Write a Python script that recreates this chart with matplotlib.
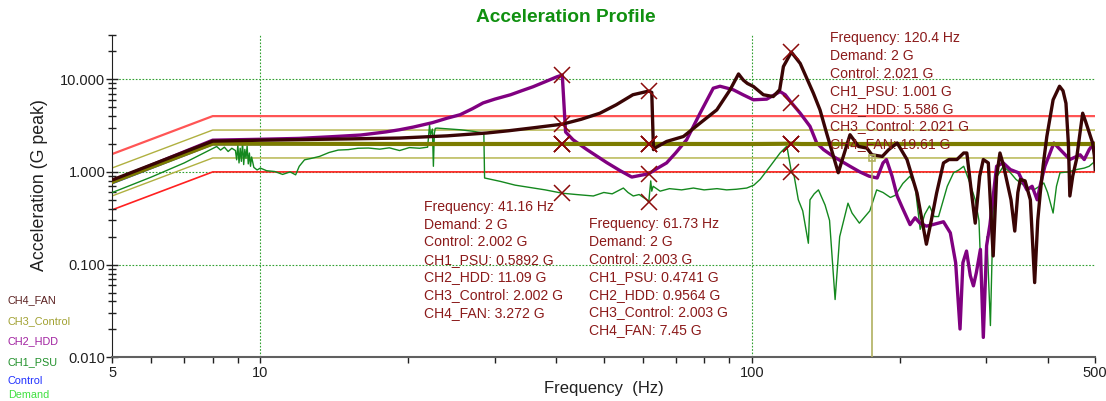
import numpy as np
import matplotlib
matplotlib.use("Agg")
import matplotlib.pyplot as plt
from matplotlib.ticker import FixedLocator, FixedFormatter, NullFormatter, LogLocator

plt.rcParams['font.family'] = ['Liberation Sans', 'DejaVu Sans']

# ---------------- data ----------------
prof_freq = [5, 8, 500]
demand = [0.78125, 2.0, 2.0]
abort_hi = [1.5625, 4.0, 4.0]
abort_lo = [0.390625, 1.0, 1.0]
alarm_hi = [1.105, 2.83, 2.83]
alarm_lo = [0.552, 1.414, 1.414]

ctrl_freq = [5, 8, 20, 41.16, 61.73, 100, 115, 120.4, 126, 200, 300, 500]
control = [0.75, 1.97, 2.0, 2.002, 2.003, 2.0, 2.01, 2.021, 2.0, 2.0, 2.0, 2.0]
ch3_control = [0.78, 2.02, 2.0, 2.002, 2.003, 2.0, 2.01, 2.021, 2.0, 2.0, 2.0, 2.0]

ch1_freq = [5, 6, 7, 8.15, 8.3, 8.45, 8.6, 8.75, 8.9, 8.95, 9.0, 9.05, 9.1, 9.15, 9.2,
            9.25, 9.3, 9.35, 9.4, 9.45, 9.5, 9.55, 9.6, 9.7, 9.85, 10.0, 10.3, 10.7,
            11.1, 11.5, 11.8, 12.0, 12.3, 12.7, 13.2, 13.8, 14.4, 15.1, 15.8, 16.6,
            17.5, 18.3, 19.2, 20.1, 21.1, 21.9, 22.1, 22.2, 22.4, 22.5, 22.6, 22.7,
            22.9, 24, 25.5, 27, 28.5, 28.6, 30.8, 33, 35.9, 38, 41.16, 44, 47.6, 50,
            52, 54.8, 56, 57.4, 59, 61.2, 61.73, 62.3, 62.6, 63, 65.1, 68, 72, 76.1,
            80, 85, 88.9, 93, 97.7, 101, 104, 109, 114.2, 117.9, 120.4, 122, 124.4,
            127, 130.4, 131.4, 134, 136.7, 141, 144, 147.8, 151, 157, 160, 165.6, 170,
            173.9, 179.6, 185, 191.5, 196, 203, 210, 215, 220.2, 225, 230, 235, 240,
            250, 257.5, 264, 270, 277, 285, 290, 296, 301, 306, 310, 316, 325, 335,
            345, 360, 375, 385, 393, 400, 410.5, 417, 424, 440, 458, 475, 486, 495, 500]
ch1_psu = [0.60, 0.88, 1.25, 1.88, 1.72, 1.85, 1.66, 1.80, 1.70, 1.35, 1.95, 1.25, 1.80,
           1.30, 2.07, 1.20, 1.75, 1.40, 1.90, 1.22, 1.60, 1.15, 1.45, 1.12, 1.05, 1.10,
           1.03, 1.01, 0.94, 1.00, 0.93, 1.15, 1.35, 1.40, 1.47, 1.62, 1.72, 1.74, 1.80,
           1.81, 1.76, 1.82, 1.70, 1.83, 1.80, 1.85, 3.22, 2.5, 2.9, 1.15, 2.6, 2.95,
           2.97, 2.92, 2.85, 2.75, 2.63, 0.86, 0.79, 0.72, 0.67, 0.64, 0.5892, 0.57,
           0.55, 0.60, 0.58, 0.67, 0.60, 0.55, 0.57, 0.50, 0.4741, 0.80, 0.62, 0.70,
           0.62, 0.66, 0.64, 0.67, 0.64, 0.66, 0.64, 0.65, 0.67, 0.72, 0.83, 1.15,
           1.60, 1.90, 1.001, 0.90, 0.50, 0.38, 0.17, 0.50, 0.58, 0.64, 0.44, 0.30,
           0.042, 0.20, 0.46, 0.36, 0.28, 0.33, 0.38, 0.64, 0.60, 0.53, 0.56, 0.75,
           0.90, 0.70, 0.24, 0.35, 0.43, 0.33, 0.33, 0.70, 0.98, 1.05, 1.15, 0.80,
           0.50, 0.30, 0.017, 0.20, 0.022, 0.39, 0.90, 1.15, 1.00, 0.83, 0.70, 0.64,
           0.70, 0.76, 0.60, 0.36, 0.70, 0.98, 1.00, 1.06, 1.10, 1.15, 1.25, 1.30]

ch2_freq = [5, 8, 10, 12, 14, 16, 18, 19.2, 20.5, 22.4, 24, 25.5, 27, 28.4, 30, 32.3, 34,
            35.9, 38, 40.1, 41.16, 41.8, 43.3, 46.2, 50.7, 54, 57, 61.73, 64, 67.1, 70,
            73.7, 78.5, 83.5, 86.2, 91.7, 96, 100.8, 107.3, 114.2, 117, 120.4, 125.5,
            131.4, 135.6, 140, 146.5, 158.5, 166, 173.3, 180, 185, 188, 193, 197.7, 203,
            210, 215, 220, 226.7, 233.6, 245.6, 253.6, 260, 265.4, 269, 273.6, 278.5,
            282.6, 286.5, 292, 296, 300.6, 305.3, 315, 325, 336, 349, 363, 372, 381,
            386, 395, 412, 431, 444, 466, 475, 486, 497, 500]
ch2_hdd = [0.80, 2.2, 2.25, 2.3, 2.4, 2.5, 2.7, 2.85, 3.05, 3.4, 3.8, 4.14, 4.8, 5.55,
           6.1, 6.8, 7.5, 8.3, 9.4, 10.6, 11.09, 2.7, 2.22, 1.74, 1.26, 1.03, 0.88,
           0.9564, 1.08, 1.25, 1.6, 2.22, 4.3, 8.0, 8.4, 7.7, 6.8, 6.0, 6.1, 7.35, 6.8,
           5.586, 4.3, 3.1, 2.05, 1.74, 1.47, 1.15, 1.0, 0.9, 0.86, 1.25, 1.36, 0.9,
           0.55, 0.4, 0.27, 0.32, 0.28, 0.26, 0.27, 0.29, 0.22, 0.105, 0.0202, 0.105,
           0.14, 0.076, 0.059, 0.082, 0.146, 0.0164, 0.16, 0.27, 1.15, 1.25, 1.06,
           0.98, 0.64, 0.7, 0.5, 0.7, 1.15, 2.05, 1.6, 1.36, 1.53, 1.36, 1.74, 2.05, 1.9]

ch4_freq = [5, 8, 10, 15, 19.2, 24, 28.9, 32, 35.9, 41.16, 45, 49.1, 53, 57.3, 61.73,
            62.6, 63.1, 64, 67.1, 72.6, 78.5, 84.9, 90.3, 94, 96.1, 98, 100.8, 105.6,
            110.6, 114, 116, 120.4, 125.5, 133.5, 137.7, 142, 150, 158.5, 165, 171.5,
            175.6, 184.4, 190, 197.7, 207, 217, 226.7, 232, 237.8, 245.6, 252, 261.6,
            270, 274, 280, 285, 291, 296, 303, 310, 315, 320, 325, 330, 337, 343, 348,
            352, 360, 369, 376.5, 382, 386.5, 392, 398.6, 410.5, 423, 430, 436, 441,
            444, 450, 458, 465, 471.5, 478, 486.5, 494, 498, 500]
ch4_fan = [0.82, 2.15, 2.2, 2.27, 2.32, 2.45, 2.63, 2.78, 2.99, 3.272, 3.7, 4.3, 5.3,
           6.8, 7.45, 7.2, 1.74, 1.85, 2.13, 2.41, 3.36, 4.67, 7.65, 11.4, 9.8, 9.0,
           8.35, 6.8, 6.5, 7.7, 13.7, 19.61, 14.8, 7.06, 4.67, 2.63, 0.98, 2.52, 1.88,
           1.81, 1.53, 1.47, 1.74, 2.05, 1.36, 0.59, 0.166, 0.3, 0.59, 1.25, 1.36,
           1.36, 1.6, 1.6, 0.6, 0.28, 0.9, 1.36, 1.25, 0.124, 0.9, 1.6, 1.2, 0.83, 0.5,
           0.23, 0.6, 0.83, 0.8, 0.5, 0.064, 0.3, 0.59, 1.2, 2.41, 6.0, 8.4, 7.5, 5.5,
           2.0, 0.55, 0.9, 1.36, 2.5, 4.3, 3.5, 2.63, 2.05, 1.5, 1.06]

marker_freq = [41.16, 61.73, 120.4]
m_demand = [2, 2, 2]
m_control = [2.002, 2.003, 2.021]
m_ch1 = [0.5892, 0.4741, 1.001]
m_ch2 = [11.09, 0.9564, 5.586]
m_ch3 = [2.002, 2.003, 2.021]
m_ch4 = [3.272, 7.45, 19.61]

cursor_freq = 175.6
cursor_level = 1.414

legend_names = ['CH4_FAN', 'CH3_Control', 'CH2_HDD', 'CH1_PSU', 'Control', 'Demand']
legend_colors = ['#5a2020', '#a0a030', '#a020a0', '#20902a', '#2030ff', '#40e040']

# ---------------- figure ----------------
W, H = 1106, 401
fig = plt.figure(figsize=(W / 100, H / 100), dpi=100)
L, R, T, B = 112.4, 1095.2, 35, 357.3
ax = fig.add_axes([L / W, 1 - B / H, (R - L) / W, (B - T) / H])
ax.set_xscale('log')
ax.set_yscale('log')
ax.set_xlim(5, 500)
ax.set_ylim(0.01, 30)

# grid
for gx in [10, 100]:
    ax.axvline(gx, color='#30a030', lw=0.8, ls=(0, (1.5, 1.5)), zorder=0.5)
for gy in [0.01, 0.1, 1, 10]:
    ax.axhline(gy, color='#30a030', lw=0.8, ls=(0, (1.5, 1.5)), zorder=0.5)

# limits
ax.plot(prof_freq, abort_hi, color='#ff5555', lw=1.6, zorder=1)
ax.plot(prof_freq, abort_lo, color='#ff2020', lw=1.2, zorder=1)
ax.plot(prof_freq, alarm_hi, color='#b0b040', lw=1.0, zorder=1)
ax.plot(prof_freq, alarm_lo, color='#b0b040', lw=1.0, zorder=1)

ax.plot(prof_freq, demand, color='#40e040', lw=1.0, zorder=2)
ax.plot(ctrl_freq, control, color='#2040d0', lw=1.2, zorder=2)
ax.plot(ch1_freq, ch1_psu, color='#14881e', lw=1.0, zorder=3)
ax.plot(ch2_freq, ch2_hdd, color='#800080', lw=2.4, zorder=4)
ax.plot(ctrl_freq, ch3_control, color='#7c7c00', lw=3.0, zorder=5)
ax.plot(ch4_freq, ch4_fan, color='#3a0505', lw=2.4, zorder=6)

# cursor
ax.plot([cursor_freq, cursor_freq], [0.01, cursor_level], color='#b0b060', lw=1.2, zorder=6)
ax.plot([cursor_freq], [cursor_level], marker='s', ms=5, mfc='none', mec='#b0b060', mew=1.2, zorder=7)

# markers
for vals in [m_demand, m_control, m_ch1, m_ch2, m_ch3, m_ch4]:
    ax.plot(marker_freq, vals, ls='none', marker='x', ms=12, mew=1.1, color='#8b0a0a', zorder=8)

# spines and ticks
for s in ['top', 'right']:
    ax.spines[s].set_visible(False)
ax.spines['left'].set_color('#202020')
ax.spines['bottom'].set_color('#606060')
ax.spines['bottom'].set_linewidth(1.5)

ax.xaxis.set_major_locator(FixedLocator([5, 10, 100, 500]))
ax.xaxis.set_major_formatter(FixedFormatter(['5', '10', '100', '500']))
ax.xaxis.set_minor_locator(FixedLocator([6, 7, 8, 9, 20, 30, 40, 50, 60, 70, 80, 90,
                                         200, 300, 400]))
ax.xaxis.set_minor_formatter(NullFormatter())
ax.yaxis.set_major_locator(FixedLocator([0.01, 0.1, 1, 10]))
ax.yaxis.set_major_formatter(FixedFormatter(['0.010', '0.100', '1.000', '10.000']))
ax.yaxis.set_minor_locator(LogLocator(base=10, subs=np.arange(2, 10), numticks=20))
ax.yaxis.set_minor_formatter(NullFormatter())
ax.tick_params(axis='x', which='both', direction='out', length=4, width=1,
               colors='#202020', labelsize=10.5, pad=2)
ax.tick_params(axis='y', which='major', direction='inout', length=8, width=1,
               colors='#202020', labelsize=10.5, pad=1)
ax.tick_params(axis='y', which='minor', direction='inout', length=6, width=1,
               colors='#202020')

# titles / labels
fig.text(566 / W, 1 - 18 / H, 'Acceleration Profile', color='#109010', fontsize=13.8,
         fontweight='bold', ha='center', va='center')
fig.text(40 / W, 1 - 185 / H, 'Acceleration (G peak)', rotation=90, fontsize=12.8,
         ha='center', va='center', color='#202020')
fig.text(604 / W, 1 - 388 / H, 'Frequency  (Hz)', fontsize=12, ha='center',
         va='center', color='#202020')

# legend texts
leg_y = [300, 321, 341, 362, 381, 395]
for name, col, yy in zip(legend_names, legend_colors, leg_y):
    fig.text(8 / W, 1 - yy / H, name, color=col, fontsize=7.8, ha='left', va='center')

# annotations
boxes = [(424, 207), (589, 224.3), (830, 38.3)]
for i, (bx, by) in enumerate(boxes):
    lines = [f'Frequency: {marker_freq[i]:g} Hz',
             f'Demand: {m_demand[i]:g} G',
             f'Control: {m_control[i]:g} G',
             f'CH1_PSU: {m_ch1[i]:g} G',
             f'CH2_HDD: {m_ch2[i]:g} G',
             f'CH3_Control: {m_ch3[i]:g} G',
             f'CH4_FAN: {m_ch4[i]:g} G']
    for k, ln in enumerate(lines):
        fig.text(bx / W, 1 - (by + k * 17.6) / H, ln, color='#8b1a1a', fontsize=10.1,
                 ha='left', va='center', zorder=10)

fig.savefig('out.png', dpi=100)
